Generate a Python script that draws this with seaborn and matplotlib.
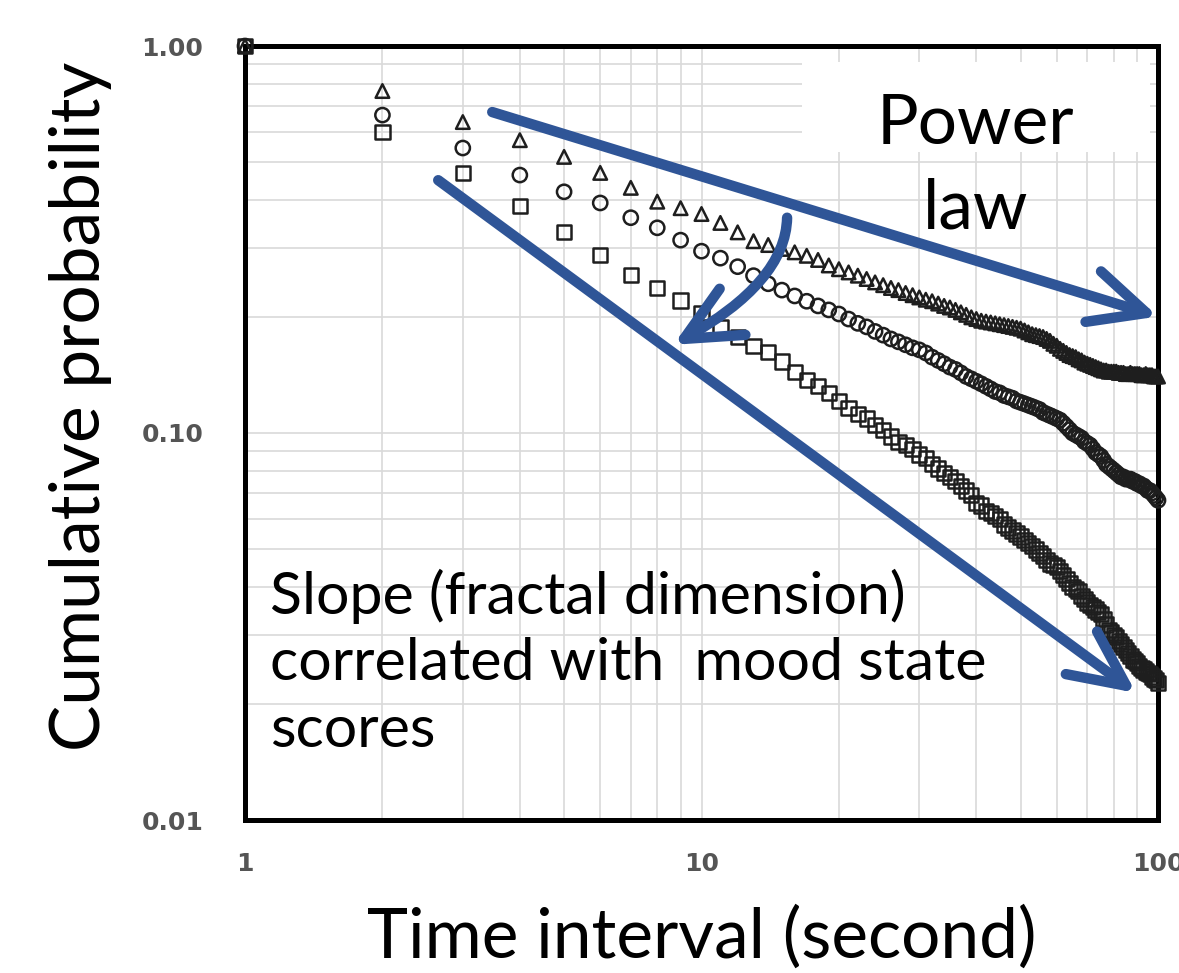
import numpy as np
import pandas as pd
import matplotlib
matplotlib.use("Agg")
import matplotlib.pyplot as plt
import seaborn as sns
from matplotlib.patches import FancyArrowPatch, Rectangle
from matplotlib.path import Path
from matplotlib.ticker import FixedLocator, FixedFormatter, LogLocator, NullFormatter

# Time interval (s)
intervals = list(range(1, 101))

# Cumulative probability, triangle series
prob_triangle = [
    1.000, 0.765, 0.636, 0.571, 0.517, 0.470, 0.430, 0.396, 0.381, 0.368,
    0.349, 0.330, 0.313, 0.306, 0.299, 0.293, 0.287, 0.280, 0.271, 0.265,
    0.260, 0.255, 0.250, 0.245, 0.241, 0.237, 0.234, 0.230, 0.227, 0.224,
    0.221, 0.219, 0.216, 0.213, 0.211, 0.208, 0.205, 0.202, 0.199, 0.197,
    0.195, 0.194, 0.193, 0.192, 0.191, 0.190, 0.189, 0.188, 0.187, 0.186,
    0.184, 0.182, 0.180, 0.179, 0.178, 0.177, 0.175, 0.173, 0.170, 0.168,
    0.165, 0.163, 0.161, 0.159, 0.158, 0.157, 0.155, 0.154, 0.152, 0.151,
    0.150, 0.149, 0.148, 0.147, 0.146, 0.145, 0.145, 0.144, 0.144, 0.144,
    0.144, 0.143, 0.143, 0.143, 0.142, 0.142, 0.143, 0.142, 0.142, 0.142,
    0.142, 0.141, 0.141, 0.142, 0.141, 0.141, 0.141, 0.140, 0.140, 0.140,
]

# Cumulative probability, circle series
prob_circle = [
    1.000, 0.663, 0.545, 0.464, 0.420, 0.393, 0.360, 0.339, 0.315, 0.295,
    0.283, 0.269, 0.255, 0.243, 0.234, 0.226, 0.219, 0.213, 0.208, 0.203,
    0.197, 0.192, 0.188, 0.183, 0.179, 0.175, 0.172, 0.169, 0.166, 0.164,
    0.161, 0.157, 0.154, 0.151, 0.148, 0.146, 0.143, 0.140, 0.138, 0.136,
    0.134, 0.132, 0.130, 0.128, 0.127, 0.125, 0.124, 0.123, 0.121, 0.120,
    0.119, 0.118, 0.117, 0.116, 0.115, 0.113, 0.112, 0.111, 0.110, 0.109,
    0.108, 0.106, 0.104, 0.102, 0.100, 0.099, 0.098, 0.097, 0.095, 0.094,
    0.093, 0.091, 0.089, 0.088, 0.087, 0.085, 0.083, 0.082, 0.081, 0.080,
    0.079, 0.078, 0.077, 0.077, 0.076, 0.076, 0.076, 0.075, 0.075, 0.074,
    0.074, 0.073, 0.073, 0.072, 0.071, 0.071, 0.070, 0.069, 0.068, 0.067,
]

# Cumulative probability, square series
prob_square = [
    1.000, 0.600, 0.470, 0.386, 0.330, 0.288, 0.256, 0.237, 0.220, 0.204,
    0.188, 0.177, 0.168, 0.162, 0.153, 0.144, 0.137, 0.132, 0.127, 0.121,
    0.116, 0.112, 0.109, 0.105, 0.102, 0.098, 0.095, 0.093, 0.091, 0.088,
    0.086, 0.083, 0.081, 0.079, 0.077, 0.075, 0.073, 0.071, 0.069, 0.066,
    0.065, 0.063, 0.062, 0.061, 0.060, 0.058, 0.057, 0.056, 0.055, 0.054,
    0.053, 0.052, 0.051, 0.050, 0.049, 0.048, 0.047, 0.046, 0.0455, 0.045,
    0.044, 0.043, 0.042, 0.041, 0.040, 0.0395, 0.039, 0.038, 0.0372, 0.0365,
    0.036, 0.0355, 0.035, 0.0345, 0.034, 0.033, 0.032, 0.031, 0.0305, 0.030,
    0.0297, 0.029, 0.0285, 0.028, 0.0275, 0.027, 0.0265, 0.026, 0.0257, 0.0254,
    0.025, 0.0247, 0.0245, 0.0242, 0.024, 0.0238, 0.0235, 0.0232, 0.023, 0.0226,
]

x_ticks = [1, 10, 100]
x_tick_labels = ["1", "10", "100"]
y_ticks = [0.01, 0.1, 1.0]
y_tick_labels = ["0.01", "0.10", "1.00"]

sns.set_theme(style="white")
plt.rcParams["font.family"] = ["Lato", "DejaVu Sans"]
plt.rcParams["text.color"] = "black"
plt.rcParams["axes.labelcolor"] = "black"

fig = plt.figure(figsize=(11.79, 9.73), dpi=100)
ax = fig.add_axes([245 / 1179, 1 - 820 / 973, 913 / 1179, 774 / 973])

df = pd.DataFrame({"t": intervals, "tri": prob_triangle,
                   "cir": prob_circle, "sq": prob_square})

edge = "#1e1e1e"
for col, mk, size in [("tri", "^", 95), ("cir", "o", 105), ("sq", "s", 105)]:
    sns.scatterplot(data=df, x="t", y=col, marker=mk, s=size, ax=ax,
                    facecolors="none", edgecolor=edge, linewidth=1.8,
                    clip_on=False, zorder=3)

ax.set_xscale("log")
ax.set_yscale("log")
ax.set_xlim(1, 100)
ax.set_ylim(0.01, 1.0)

# grid
ax.xaxis.set_minor_locator(LogLocator(base=10, subs=np.arange(2, 10)))
ax.yaxis.set_minor_locator(LogLocator(base=10, subs=np.arange(2, 10)))
ax.xaxis.set_minor_formatter(NullFormatter())
ax.yaxis.set_minor_formatter(NullFormatter())
ax.grid(True, which="both", color="#d9d9d9", linewidth=1.2)
ax.set_axisbelow(True)

ax.xaxis.set_major_locator(FixedLocator(x_ticks))
ax.xaxis.set_major_formatter(FixedFormatter(x_tick_labels))
ax.yaxis.set_major_locator(FixedLocator(y_ticks))
ax.yaxis.set_major_formatter(FixedFormatter(y_tick_labels))
ax.tick_params(which="major", direction="out", length=8, width=1,
               color="#888888", labelcolor="#555555", labelsize=18)
ax.tick_params(axis="y", which="major", pad=22)
ax.tick_params(axis="x", which="major", pad=15)
ax.tick_params(which="minor", length=0)
for lab in ax.get_xticklabels() + ax.get_yticklabels():
    lab.set_fontfamily("DejaVu Sans")
    lab.set_fontweight("bold")

for sp in ax.spines.values():
    sp.set_visible(True)
    sp.set_color("black")
    sp.set_linewidth(3.6)

ax.set_xlabel("Time interval (second)", fontsize=50, color="black")
ax.set_ylabel("Cumulative probability", fontsize=50, color="black")
ax.xaxis.set_label_coords(0.5, -0.152)
ax.yaxis.set_label_coords(-0.18, 0.535)
ax.xaxis.label.set_va("center")
ax.yaxis.label.set_va("center")

# annotation box and texts
ax.add_patch(Rectangle((0.61, 0.863), 0.381, 0.116, transform=ax.transAxes,
                       facecolor="white", edgecolor="none", zorder=4))
ax.text(0.80, 0.898, "Power", transform=ax.transAxes, fontsize=50,
        ha="center", va="center", color="black", zorder=5)
ax.text(0.80, 0.789, "law", transform=ax.transAxes, fontsize=50,
        ha="center", va="center", color="black", zorder=5)
ax.text(0.027, 0.325, "Slope (fractal dimension)\ncorrelated with  mood state\nscores",
        transform=ax.transAxes, fontsize=42.5, ha="left", va="top",
        linespacing=1.32, color="black", zorder=5)

blue = "#2F5597"
head = "->,head_length=4.0,head_width=1.9"
lw = 7.5
a1 = FancyArrowPatch((3.48, 0.675), (100, 0.2), arrowstyle=head,
                     mutation_scale=10, color=blue, linewidth=lw,
                     capstyle="round", joinstyle="round", zorder=6,
                     clip_on=False, shrinkA=0, shrinkB=0)
a2 = FancyArrowPatch((2.65, 0.45), (89.5, 0.0213), arrowstyle=head,
                     mutation_scale=10, color=blue, linewidth=lw,
                     capstyle="round", joinstyle="round", zorder=6,
                     clip_on=False, shrinkA=0, shrinkB=0)
curve = Path([(15.4, 0.36), (15.3, 0.2455), (8.68, 0.169)],
             [Path.MOVETO, Path.CURVE3, Path.CURVE3])
a3 = FancyArrowPatch(path=curve, arrowstyle=head, mutation_scale=10,
                     color=blue, linewidth=lw, capstyle="round",
                     joinstyle="round", zorder=6, clip_on=False)
for a in (a1, a2, a3):
    ax.add_patch(a)

fig.savefig("out.png", dpi=100)
